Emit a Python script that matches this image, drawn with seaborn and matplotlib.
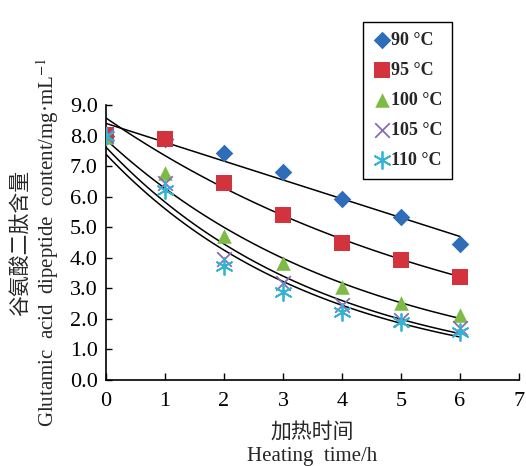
import numpy as np
import pandas as pd
import seaborn as sns
import matplotlib.pyplot as plt
from matplotlib.ticker import FormatStrFormatter

# heating time (h) and measured content (mg/mL) for each temperature
hours = [0, 1, 2, 3, 4, 5, 6]
c_90 = [8.00, 7.90, 7.42, 6.80, 5.92, 5.34, 4.45]
c_95 = [8.02, 7.88, 6.44, 5.40, 4.50, 3.93, 3.38]
c_100 = [7.95, 6.76, 4.71, 3.84, 3.03, 2.53, 2.13]
c_105 = [8.00, 6.46, 3.95, 3.18, 2.45, 1.96, 1.69]
c_110 = [8.00, 6.22, 3.73, 2.89, 2.24, 1.91, 1.58]
temps = ["90 °C", "95 °C", "100 °C", "105 °C", "110 °C"]
# 90 °C trend is drawn as a straight line, the rest as first-order decay
fit_kind = ["linear", "exp", "exp", "exp", "exp"]

colors = ["#2f6db9", "#d2333c", "#7dbb45", "#8a6cb4", "#33b4d4"]
markers = ["D", "s", "^", "x", (6, 2, 0)]
sizes = [80, 120, 110, 110, 150]

sns.set_theme(style="ticks")
plt.rcParams["font.family"] = ["Liberation Serif", "Noto Sans CJK SC"]
plt.rcParams["mathtext.fontset"] = "stix"

series = [c_90, c_95, c_100, c_105, c_110]

fit_rows = []
t_fine = np.linspace(0, 6, 61)
for name, vals, kind in zip(temps, series, fit_kind):
    if kind == "linear":
        slope, icpt = np.polyfit(hours, vals, 1)
        yfit = icpt + slope * t_fine
    else:
        slope, icpt = np.polyfit(hours, np.log(vals), 1)
        yfit = np.exp(icpt + slope * t_fine)
    fit_rows.append(pd.DataFrame({"time": t_fine, "content": yfit, "temp": name}))
fit = pd.concat(fit_rows)

fig = plt.figure(figsize=(5.26, 4.66), dpi=100)
ax = fig.add_axes([106 / 526, 1 - 380 / 466, 413 / 526, 275 / 466])

sns.lineplot(data=fit, x="time", y="content", units="temp", estimator=None,
             color="black", linewidth=1.1, legend=False, ax=ax)
for name, vals, col, mk, sz in zip(temps, series, colors, markers, sizes):
    sns.scatterplot(x=hours, y=vals, marker=mk, color=col, s=sz,
                    linewidth=1.3 if mk == "x" or isinstance(mk, tuple) else 0,
                    label=name, ax=ax, zorder=3)

ax.set_xlim(0, 7)
ax.set_ylim(0, 9)
ax.set_xticks(range(0, 8))
ax.set_yticks(np.arange(0, 9.5, 1))
ax.yaxis.set_major_formatter(FormatStrFormatter("%.1f"))
ax.tick_params(direction="in", length=5, width=1, labelsize=16, colors="black")
ax.tick_params(axis="y", length=4, pad=6)
ax.tick_params(axis="x", pad=9)
ax.spines["top"].set_visible(False)
ax.spines["right"].set_visible(False)
for sp in ("left", "bottom"):
    ax.spines[sp].set_color("black")
    ax.spines[sp].set_linewidth(1.2)

ax.set_xlabel("加热时间\nHeating  time/h", fontsize=15, linespacing=1.3, labelpad=8)
ax.set_ylabel("谷氨酸二肽含量\nGlutamic  acid  dipeptide  content/mg·mL$^{-1}$",
              fontsize=15, linespacing=1.2, labelpad=6)

ax.legend(loc="upper left", bbox_to_anchor=(363 / 526, 1 - 22 / 466),
          bbox_transform=fig.transFigure, frameon=True, borderaxespad=0,
          fancybox=False, edgecolor="black", framealpha=1,
          prop={"weight": "bold", "size": 13}, handletextpad=0.0,
          labelspacing=0.72, borderpad=0.55, handlelength=1.0)
ax.get_legend().get_frame().set_linewidth(1.0)

fig.savefig("out.png", dpi=100)
